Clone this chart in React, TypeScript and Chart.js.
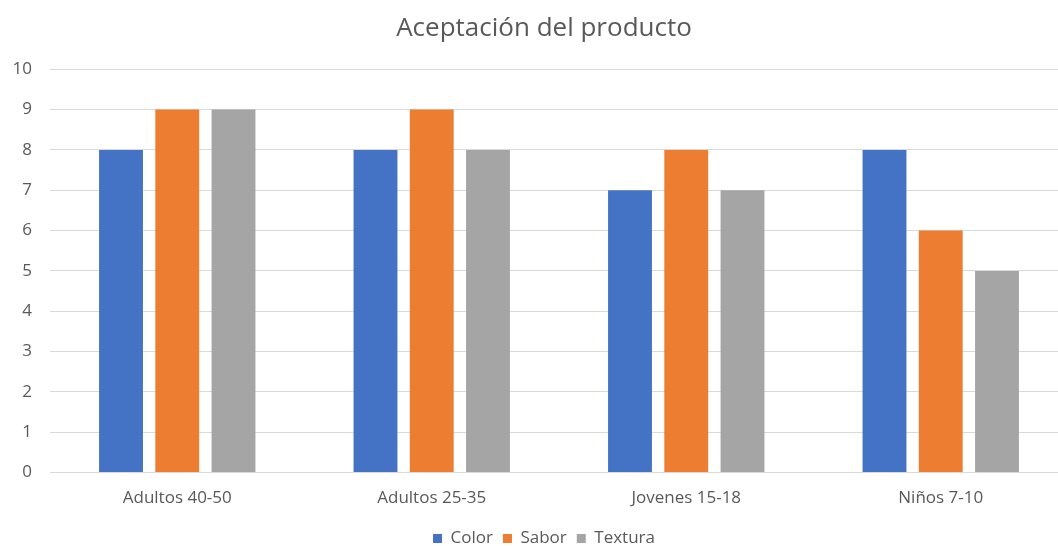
import React, { useEffect, useRef } from "react";
import { Chart, registerables } from "chart.js";

Chart.register(...registerables);

const categories = ["Adultos 40-50", "Adultos 25-35", "Jovenes 15-18", "Niños 7-10"];
const colorValues = [8, 8, 7, 8];
const saborValues = [9, 9, 8, 6];
const texturaValues = [9, 8, 7, 5];
const seriesNames = ["Color", "Sabor", "Textura"];
const yTicks = [0, 1, 2, 3, 4, 5, 6, 7, 8, 9, 10];

const FONT = "'Open Sans', 'Noto Sans', sans-serif";
const TEXT = "#595959";

export default function App() {
  const ref = useRef<HTMLCanvasElement | null>(null);

  useEffect(() => {
    if (!ref.current) return;
    const chart = new Chart(ref.current, {
      type: "bar",
      data: {
        labels: categories,
        datasets: [
          { label: seriesNames[0], data: colorValues, backgroundColor: "#4472C4" },
          { label: seriesNames[1], data: saborValues, backgroundColor: "#ED7D31" },
          { label: seriesNames[2], data: texturaValues, backgroundColor: "#A5A5A5" },
        ],
      },
      options: {
        responsive: true,
        maintainAspectRatio: false,
        animation: false,
        datasets: { bar: { categoryPercentage: 0.663, barPercentage: 0.78 } },
        layout: { padding: { left: 0, right: 0, top: 13, bottom: 0 } },
        plugins: {
          title: {
            display: true,
            text: "Aceptación del producto",
            color: TEXT,
            font: { family: FONT, size: 26, weight: "normal" },
            padding: { top: 0, bottom: 25 },
          },
          legend: {
            position: "bottom",
            labels: {
              color: TEXT,
              font: { family: FONT, size: 17 },
              boxWidth: 9,
              boxHeight: 9,
              padding: 10,
            },
          },
          tooltip: { enabled: false },
        },
        scales: {
          x: {
            grid: { display: false, drawTicks: false },
            border: { display: false },
            ticks: { color: TEXT, font: { family: FONT, size: 17 }, padding: 15 },
            afterFit: (s: any) => {
              s.height = s.height - 3;
            },
          },
          y: {
            min: 0,
            max: 10,
            afterFit: (s: any) => {
              s.width = 50;
            },
            afterBuildTicks: (s: any) => {
              s.ticks = yTicks.map((v) => ({ value: v }));
            },
            grid: { color: "#D9D9D9", lineWidth: 1, drawTicks: false },
            border: { display: false },
            ticks: { color: TEXT, font: { family: FONT, size: 17 }, padding: 18 },
          },
          yRightSpacer: {
            type: "linear",
            position: "right",
            display: true,
            min: 0,
            max: 10,
            afterFit: (s: any) => {
              s.width = 20;
            },
            grid: { display: false, drawTicks: false },
            border: { display: false },
            ticks: { display: false },
          },
        },
      },
    });
    return () => chart.destroy();
  }, []);

  return (
    <div
      style={{
        position: "fixed",
        left: 0,
        top: 0,
        width: 1058,
        height: 546,
        overflow: "hidden",
        background: "#fff",
      }}
    >
      <div style={{ position: "absolute", left: 0, top: 0, width: 1088, height: 557 }}>
        <canvas ref={ref} />
      </div>
    </div>
  );
}
